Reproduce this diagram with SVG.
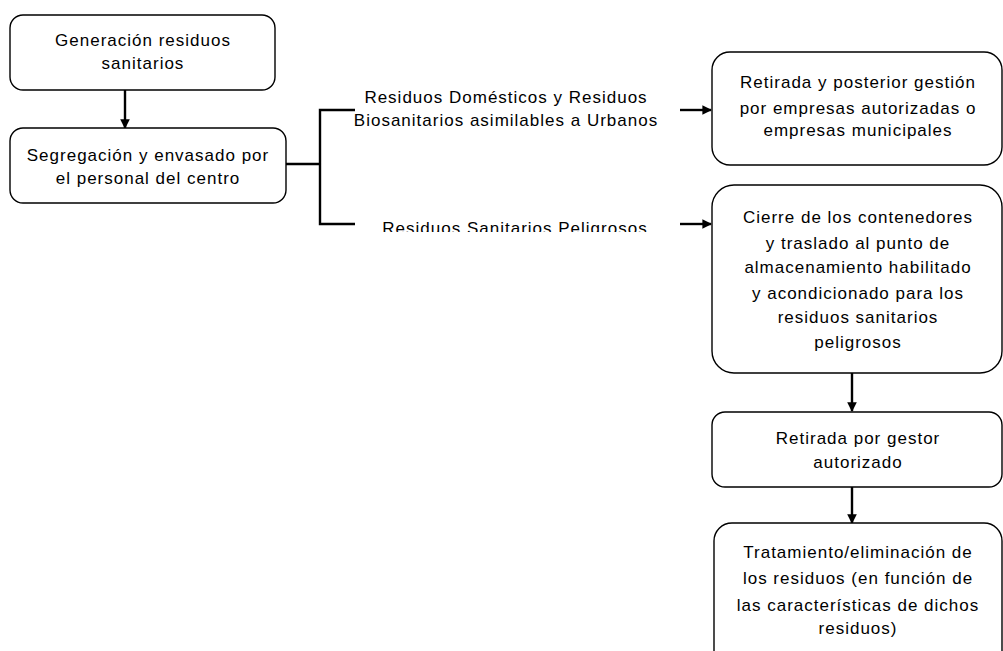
<svg xmlns="http://www.w3.org/2000/svg" width="1003" height="651" viewBox="0 0 1003 651">
<style>
.box{fill:#fff;stroke:#000;stroke-width:1.4}
.t{font-family:"Liberation Sans",Arial,sans-serif;font-size:17px;fill:#000;text-anchor:middle;letter-spacing:1px}
.c{fill:none;stroke:#000;stroke-width:2.4}
.a{fill:none;stroke:#000;stroke-width:2.4;marker-end:url(#ah)}
</style>
<defs>
<marker id="ah" viewBox="0 0 10 10" refX="9" refY="5" markerWidth="4" markerHeight="4" orient="auto" markerUnits="strokeWidth">
<path d="M0,0 L10,5 L0,10 z" fill="#000"/>
</marker>
<clipPath id="cut"><rect x="300" y="200" width="400" height="32"/></clipPath>
</defs>
<rect width="1003" height="651" fill="#fff"/>
<g id="connectors">
<path class="a" d="M125,90 V128"/>
<path class="c" d="M286,164 H320 M355,110 H320 V224 H355"/>
<path class="a" d="M680,110 H711"/>
<path class="a" d="M680,224 H711"/>
<path class="a" d="M852,373 V411"/>
<path class="a" d="M852,487 V523"/>
</g>
<g id="n1">
<rect class="box" x="10" y="15" width="265" height="75" rx="13"/>
<text class="t" x="143" y="46">Generación residuos</text>
<text class="t" x="143" y="69">sanitarios</text>
</g>
<g id="n2">
<rect class="box" x="10" y="128" width="276" height="75" rx="13"/>
<text class="t" x="148" y="161">Segregación y envasado por</text>
<text class="t" x="148" y="184">el personal del centro</text>
</g>
<g id="l1">
<text class="t" x="506" y="103">Residuos Domésticos y Residuos</text>
<text class="t" x="506" y="126">Biosanitarios asimilables a Urbanos</text>
</g>
<g id="l2" clip-path="url(#cut)">
<text class="t" x="515" y="234">Residuos Sanitarios Peligrosos</text>
</g>
<g id="n3">
<rect class="box" x="712" y="52" width="290" height="113" rx="18"/>
<text class="t" x="858" y="88">Retirada y posterior gestión</text>
<text class="t" x="858" y="114">por empresas autorizadas o</text>
<text class="t" x="858" y="136">empresas municipales</text>
</g>
<g id="n4">
<rect class="box" x="712" y="185" width="290" height="188" rx="22"/>
<text class="t" x="858" y="223">Cierre de los contenedores</text>
<text class="t" x="858" y="249">y traslado al punto de</text>
<text class="t" x="858" y="273">almacenamiento habilitado</text>
<text class="t" x="858" y="299">y acondicionado para los</text>
<text class="t" x="858" y="323">residuos sanitarios</text>
<text class="t" x="858" y="348">peligrosos</text>
</g>
<g id="n5">
<rect class="box" x="712" y="412" width="290" height="75" rx="13"/>
<text class="t" x="858" y="444">Retirada por gestor</text>
<text class="t" x="858" y="468">autorizado</text>
</g>
<g id="n6">
<rect class="box" x="714" y="523" width="288" height="160" rx="18"/>
<text class="t" x="858" y="558">Tratamiento/eliminación de</text>
<text class="t" x="858" y="584">los residuos (en función de</text>
<text class="t" x="858" y="611">las características de dichos</text>
<text class="t" x="858" y="634">residuos)</text>
</g>
</svg>
